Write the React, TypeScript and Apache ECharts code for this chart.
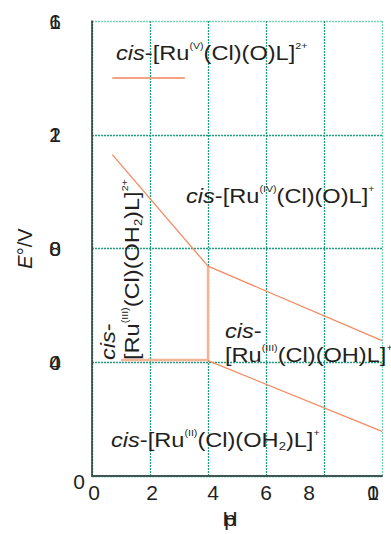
import React, { useEffect, useRef } from 'react';
import * as echarts from 'echarts';

// ---- data ----
const pHRange = [0, 10];
const eRange = [0, 1.6];
const pHInterval = 2;
const eInterval = 0.4;
// tick labels as printed (two overlapping glyph layers)
const xLabelFront: Record<string, string> = { '0': '0', '2': '2', '4': '4', '6': '6', '8': '8', '10': '1' };
const xLabelBack: Record<string, string> = { '10': '0' };
const yLabelFront: Record<string, string> = { '0.0': '0', '0.4': '0', '0.8': '0', '1.2': '1', '1.6': '1' };
const yLabelBack: Record<string, string> = { '0.4': '4', '0.8': '8', '1.2': '2', '1.6': '6' };
const xNameFront = 'p';
const xNameBack = 'H';
const yName = '{i|E}{n|°/V}';

const legendSegment = [[0.7, 1.4], [3.2, 1.4]];
const upperBoundary = [[0.7, 1.13], [4.0, 0.738], [10, 0.476]];
const lowerBoundary = [[4.0, 0.406], [10, 0.157]];
const stepBoundary = [[1.0, 0.408], [4.0, 0.408], [4.0, 0.738]];

const speciesTexts = [
  '{i|cis}{n|-[Ru}{sup|(V)}{n|(Cl)(O)L]}{sup|2+}',
  '{i|cis}{n|-[Ru}{sup|(IV)}{n|(Cl)(O)L]}{sup|+}',
  '{i|cis}{n|-}\n{n|[Ru}{sup|(III)}{n|(Cl)(OH}{sub|2}{n|)L]}{sup|2+}',
  '{i|cis}{n|-}\n{n|[Ru}{sup|(III)}{n|(Cl)(OH)L]}{sup|+}',
  '{i|cis}{n|-[Ru}{sup|(II)}{n|(Cl)(OH}{sub|2}{n|)L]}{sup|+}',
];

// ---- styles ----
const FONT = "'Liberation Sans', Arial, sans-serif";
const TXT = '#231f20';
const GRID = '#1f9f80';
const GRID_EDGE = '#74d5b8';
const LINE = '#f48a62';
const STEP = '#f6b497';
const textPlacement = [
  { x: 116, y: 53.5, rotation: 0 },
  { x: 186, y: 196, rotation: 0 },
  { x: 120, y: 360, rotation: Math.PI / 2 },
  { x: 225, y: 343, rotation: 0 },
  { x: 111, y: 440, rotation: 0 },
];
const xLabelStyleKey: Record<string, string> = { '0': 'r2', '2': 'r2', '4': 'r5', '6': 'c', '8': 'l15', '10': 'l9' };

const tokenRich = {
  i: { fontStyle: 'italic', fontSize: 20, lineHeight: 24, fontFamily: FONT, fill: TXT },
  n: { fontSize: 20, lineHeight: 24, fontFamily: FONT, fill: TXT },
  sup: { fontSize: 9, lineHeight: 14, verticalAlign: 'top', fontFamily: FONT, fill: TXT },
  sub: { fontSize: 11, lineHeight: 14, verticalAlign: 'bottom', fontFamily: FONT, fill: TXT },
};

const lblBase = { fontSize: 21, fontFamily: FONT, color: TXT };
const xRich = {
  r2: { ...lblBase, padding: [0, 0, 0, 4] },
  r5: { ...lblBase, padding: [0, 0, 0, 10] },
  c: { ...lblBase },
  l15: { ...lblBase, padding: [0, 30, 0, 0] },
  l9: { ...lblBase, padding: [0, 18, 0, 0] },
};
const yRich = {
  z: { ...lblBase, padding: [10, 0, 0, 0] },
  a: { ...lblBase, padding: [0, 24, 0, 0] },
};

const key = (v: number) => String(Math.round(v * 10) / 10);
const ykey = (v: number) => v.toFixed(1);

export default function App() {
  const ref = useRef<HTMLDivElement>(null);
  useEffect(() => {
    if (!ref.current) return;
    const chart = echarts.init(ref.current, undefined, { renderer: 'svg' });
    const xCommon = {
      type: 'value',
      min: pHRange[0],
      max: pHRange[1],
      interval: pHInterval,
      position: 'bottom',
      nameLocation: 'middle',
      nameGap: 28,
      nameTextStyle: { fontSize: 21, fontFamily: FONT, color: TXT, padding: [0, 14, 0, 0] },
      axisTick: { show: false },
    };
    const yCommon = {
      type: 'value',
      min: eRange[0],
      max: eRange[1],
      interval: eInterval,
      position: 'left',
      axisTick: { show: false },
    };
    const option: any = {
      animation: false,
      grid: { left: 92, right: 9, top: 21, bottom: 54, containLabel: false },
      xAxis: [
        {
          ...xCommon,
          name: xNameFront,
          axisLine: { show: true, lineStyle: { color: '#3f5753', width: 2 } },
          splitLine: {
            show: true,
            lineStyle: { color: [GRID, GRID, GRID, GRID, GRID, GRID_EDGE], type: [2, 1], width: 1.3 },
          },
          axisLabel: {
            margin: 6,
            rich: xRich,
            formatter: (v: number) => {
              const k = key(v);
              return `{${xLabelStyleKey[k] || 'c'}|${xLabelFront[k] ?? ''}}`;
            },
          },
        },
        {
          ...xCommon,
          name: xNameBack,
          axisLine: { show: false },
          splitLine: { show: false },
          axisLabel: {
            margin: 6,
            rich: xRich,
            formatter: (v: number) => {
              const k = key(v);
              const t = xLabelBack[k];
              return t ? `{${xLabelStyleKey[k] || 'c'}|${t}}` : '';
            },
          },
        },
      ],
      yAxis: [
        {
          ...yCommon,
          name: yName,
          nameLocation: 'middle',
          nameGap: 57,
          nameTextStyle: {
            fontSize: 20,
            fontFamily: FONT,
            color: TXT,
            rich: {
              i: { fontStyle: 'italic', fontSize: 20, fontFamily: FONT, color: TXT },
              n: { fontSize: 20, fontFamily: FONT, color: TXT },
            },
          },
          axisLine: { show: true, lineStyle: { color: '#2b3533', width: 1.5 } },
          splitLine: {
            show: true,
            lineStyle: { color: [GRID, GRID, GRID, GRID, GRID_EDGE], type: [2, 1], width: 1.3 },
          },
          axisLabel: {
            margin: 7,
            rich: yRich,
            formatter: (v: number) => {
              const k = ykey(v);
              if (k === '0.0') return '{z|0}';
              return `{a|${yLabelFront[k] ?? ''}}`;
            },
          },
        },
        {
          ...yCommon,
          axisLine: { show: false },
          splitLine: { show: false },
          axisLabel: {
            margin: 7,
            rich: yRich,
            formatter: (v: number) => {
              const t = yLabelBack[ykey(v)];
              return t ? `{a|${t}}` : '';
            },
          },
        },
      ],
      series: [
        {
          type: 'line',
          data: stepBoundary,
          symbol: 'none',
          lineStyle: { color: STEP, width: 2.5 },
          z: 2,
        },
        {
          type: 'line',
          data: legendSegment,
          symbol: 'none',
          lineStyle: { color: '#f5a285', width: 2 },
          z: 3,
        },
        {
          type: 'line',
          data: upperBoundary,
          symbol: 'none',
          lineStyle: { color: LINE, width: 1.3 },
          z: 3,
        },
        {
          type: 'line',
          data: lowerBoundary,
          symbol: 'none',
          lineStyle: { color: LINE, width: 1.3 },
          z: 3,
        },
      ],
      graphic: speciesTexts.map((t, i) => ({
        type: 'text',
        x: textPlacement[i].x,
        y: textPlacement[i].y,
        rotation: textPlacement[i].rotation,
        scaleX: 1.18,
        z: 10,
        style: {
          text: t,
          rich: tokenRich,
          fill: TXT,
          fontSize: 20,
          fontFamily: FONT,
          align: 'left',
          verticalAlign: 'middle',
        },
      })),
    };
    chart.setOption(option);
    return () => chart.dispose();
  }, []);
  return (
    <div
      ref={ref}
      style={{ position: 'fixed', left: 0, top: 0, width: 391, height: 534, background: '#fff' }}
    />
  );
}
